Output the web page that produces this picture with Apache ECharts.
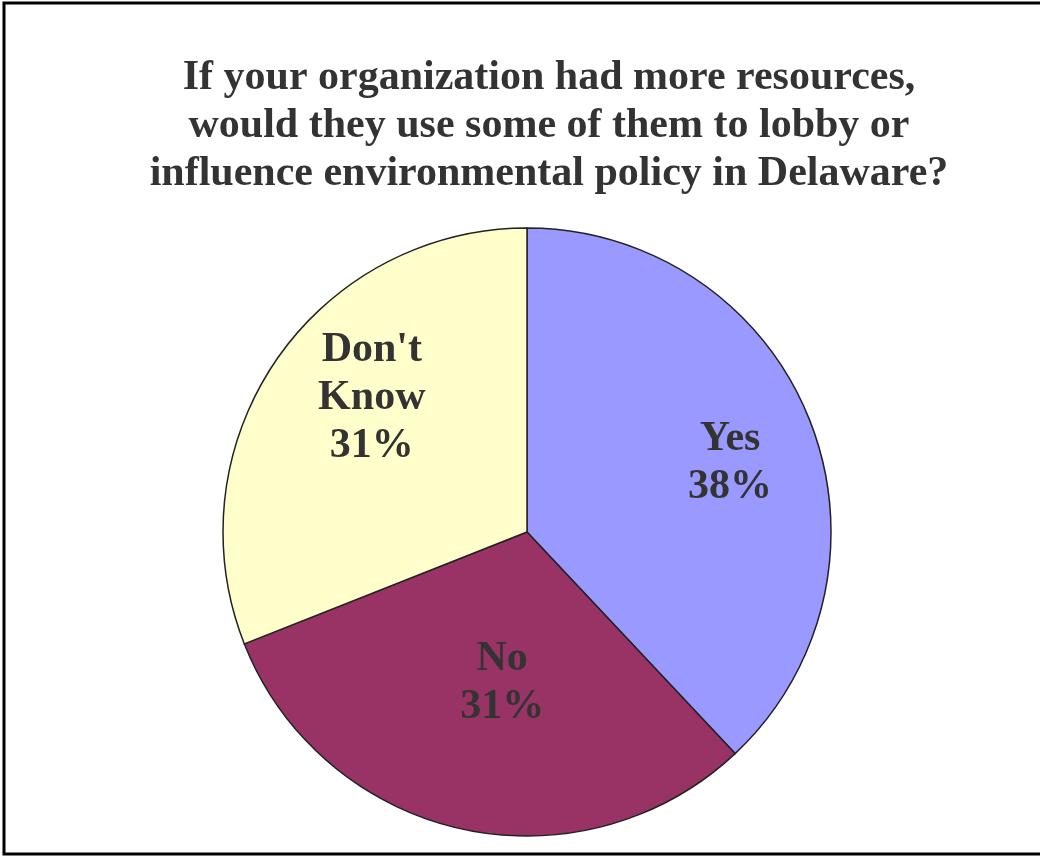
<!DOCTYPE html>
<html>
<head>
<meta charset="utf-8">
<script src="https://cdn.jsdelivr.net/npm/echarts@6/dist/echarts.min.js"></script>
<style>
html,body{margin:0;padding:0;background:#fff;}
#chart{width:1040px;height:856px;}
</style>
</head>
<body>
<div id="chart"></div>
<script>
const titleText = "If your organization had more resources,\nwould they use some of them to lobby or\ninfluence environmental policy in Delaware?";
const categories = ["Yes", "No", "Don't\nKnow"];
const values = [38, 31, 31];
const colors = ["#9999FF", "#993366", "#FFFFCC"];
const labelOffsets = [[59, -12], [9, 0], [-27, -47]];

const chart = echarts.init(document.getElementById('chart'));
chart.setOption({
  animation: false,
  backgroundColor: '#ffffff',
  title: {
    text: titleText,
    left: 544,
    top: 49,
    textAlign: 'center',
    textStyle: {
      fontFamily: 'Liberation Serif',
      fontWeight: 'bold',
      fontSize: 42,
      lineHeight: 48,
      color: '#333333'
    }
  },
  graphic: [{
    type: 'rect',
    shape: {x: 4, y: 3, width: 1040, height: 851},
    style: {fill: 'none', stroke: '#000', lineWidth: 3},
    silent: true
  }],
  series: [{
    type: 'pie',
    center: [527, 532],
    radius: 304,
    startAngle: 90,
    clockwise: true,
    avoidLabelOverlap: false,
    data: categories.map((c, i) => ({
      name: c,
      value: values[i],
      itemStyle: {color: colors[i]},
      label: {offset: labelOffsets[i]}
    })),
    itemStyle: {borderColor: '#222', borderWidth: 1.5},
    label: {
      show: true,
      position: 'inside',
      formatter: p => p.name + '\n' + p.value + '%',
      fontFamily: 'Liberation Serif',
      fontWeight: 'bold',
      fontSize: 42,
      lineHeight: 48,
      color: '#333333',
      align: 'center'
    },
    labelLine: {show: false},
    emphasis: {disabled: true}
  }]
});
</script>
</body>
</html>
